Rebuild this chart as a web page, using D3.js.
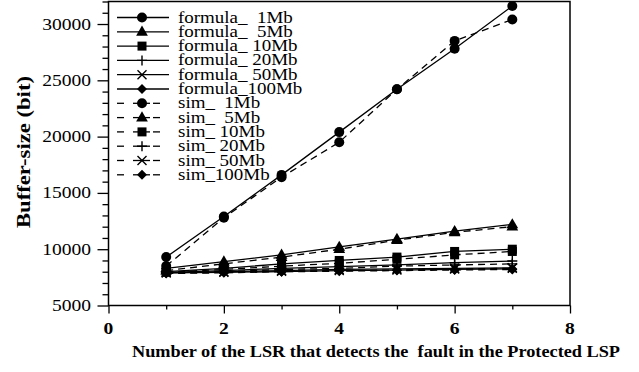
<!DOCTYPE html>
<html><head><meta charset="utf-8">
<script src="https://cdn.jsdelivr.net/npm/d3@7"></script>
<style>body{margin:0;background:#fff}</style>
</head><body>
<svg id="c" width="639" height="372"></svg>
<script>
const xValues = [1, 2, 3, 4, 5, 6, 7];
const seriesNames = ["formula_  1Mb","formula_  5Mb","formula_ 10Mb","formula_ 20Mb","formula_ 50Mb","formula_100Mb",
                     "sim_  1Mb","sim_  5Mb","sim_ 10Mb","sim_ 20Mb","sim_ 50Mb","sim_100Mb"];
const formula1 = [9300, 12900, 16600, 20400, 24200, 27800, 31600];
const formula5 = [8300, 8900, 9500, 10200, 10900, 11600, 12200];
const formula10 = [8000, 8300, 8700, 9000, 9300, 9800, 10000];
const formula20 = [7950, 8100, 8300, 8450, 8600, 8800, 8950];
const formula50 = [7900, 8000, 8100, 8200, 8250, 8300, 8350];
const formula100 = [7900, 7950, 8000, 8100, 8150, 8200, 8250];
const sim1 = [8500, 12800, 16400, 19500, 24200, 28500, 30400];
const sim5 = [8100, 8700, 9300, 10000, 10800, 11500, 12000];
const sim10 = [7950, 8200, 8500, 8750, 9100, 9500, 9800];
const sim20 = [7900, 8000, 8200, 8300, 8500, 8600, 8700];
const sim50 = [7900, 7950, 8050, 8100, 8150, 8250, 8300];
const sim100 = [7850, 7900, 8000, 8050, 8100, 8150, 8200];
const seriesValues = [formula1, formula5, formula10, formula20, formula50, formula100,
                      sim1, sim5, sim10, sim20, sim50, sim100];
const markerTypes = ["circle","triangle","square","plus","cross","diamond",
                     "circle","triangle","square","plus","cross","diamond"];
const xTicks = [0, 2, 4, 6, 8];
const yTicks = [5000, 10000, 15000, 20000, 25000, 30000];
const xTitle = "Number of the LSR that detects the  fault in the Protected LSP";
const yTitle = "Buffer-size (bit)";

const FONT = "'Liberation Serif', 'Times New Roman', Times, serif";
const svg = d3.select("#c").attr("font-family", FONT);
const L = 108.5, R = 570, T = 1.5, B = 305.5;
const x = d3.scaleLinear().domain([0, 8]).range([L, R]);
const y = d3.scaleLinear().domain([5000, 32000]).range([B, T]);
const SX = 1.15;

svg.append("rect").attr("x", L).attr("y", T).attr("width", R - L).attr("height", B - T)
  .attr("fill", "none").attr("stroke", "#000").attr("stroke-width", 1.5);

const gx = svg.append("g").attr("transform", `translate(0,${B})`);
gx.call(d3.axisBottom(x).tickValues(d3.range(0, 9, 1)).tickSize(8).tickFormat(""))
  .call(g => g.select(".domain").remove());
gx.selectAll(".tick line").attr("stroke-width", 1.3).attr("y2", d => d % 2 === 0 ? 8 : 4);
gx.selectAll(".tick text").remove();
xTicks.forEach(v => {
  svg.append("text").attr("transform", `translate(${x(v)},334) scale(${SX},1)`)
    .attr("text-anchor", "middle").attr("font-family", FONT).attr("font-size", 17).attr("font-weight", "bold").text(v);
});

const gy = svg.append("g").attr("transform", `translate(${L},0)`);
gy.call(d3.axisLeft(y).tickValues(d3.range(5000, 32001, 1000)).tickSize(11).tickFormat(""))
  .call(g => g.select(".domain").remove());
gy.selectAll(".tick line").attr("stroke-width", 1.3).attr("x2", d => d % 5000 === 0 ? -11 : -6);
yTicks.forEach(v => {
  svg.append("text").attr("transform", `translate(91,${y(v) + 5.5}) scale(${SX},1)`)
    .attr("text-anchor", "end").attr("font-family", FONT).attr("font-size", 17).text(v);
});

svg.append("text").attr("x", 376).attr("y", 357).attr("text-anchor", "middle")
  .attr("font-family", FONT).attr("font-size", 17).attr("font-weight", "bold")
  .attr("textLength", 488).attr("lengthAdjust", "spacingAndGlyphs")
  .style("white-space", "pre").text(xTitle);
svg.append("text").attr("transform", "translate(30,152) rotate(-90)").attr("text-anchor", "middle")
  .attr("font-family", FONT).attr("font-size", 18).attr("font-weight", "bold")
  .attr("textLength", 152).attr("lengthAdjust", "spacingAndGlyphs").text(yTitle);

function drawMarker(g, type, cx, cy) {
  if (type === "circle") g.append("circle").attr("cx", cx).attr("cy", cy).attr("r", 5).attr("fill", "#000");
  else if (type === "triangle") g.append("path").attr("d", d3.symbol(d3.symbolTriangle, 60)()).attr("transform", `translate(${cx},${cy + 0.5})`).attr("fill", "#000");
  else if (type === "square") g.append("rect").attr("x", cx - 4.5).attr("y", cy - 4.5).attr("width", 9).attr("height", 9).attr("fill", "#000");
  else if (type === "plus") g.append("path").attr("d", `M${cx-5},${cy}H${cx+5}M${cx},${cy-5}V${cy+5}`).attr("stroke", "#000").attr("stroke-width", 1.4).attr("fill", "none");
  else if (type === "cross") g.append("path").attr("d", `M${cx-4.5},${cy-4.5}L${cx+4.5},${cy+4.5}M${cx-4.5},${cy+4.5}L${cx+4.5},${cy-4.5}`).attr("stroke", "#000").attr("stroke-width", 1.4).attr("fill", "none");
  else if (type === "diamond") g.append("path").attr("d", `M${cx},${cy-5}L${cx+5},${cy}L${cx},${cy+5}L${cx-5},${cy}Z`).attr("fill", "#000");
}

const line = d3.line().x((d, i) => x(xValues[i])).y(d => y(d));
const plot = svg.append("g");
seriesValues.forEach((vals, si) => {
  plot.append("path").attr("d", line(vals)).attr("fill", "none").attr("stroke", "#000")
    .attr("stroke-width", 1.3).attr("stroke-dasharray", si >= 6 ? "7,5" : null);
});
seriesValues.forEach((vals, si) => {
  vals.forEach((v, i) => drawMarker(plot, markerTypes[si], x(xValues[i]), y(v)));
});

const leg = svg.append("g");
seriesNames.forEach((name, si) => {
  const cy = 17.5 + si * 14.3;
  if (si >= 6) {
    [[117,124],[133,150],[153,160]].forEach(s => leg.append("line").attr("x1", s[0]).attr("x2", s[1]).attr("y1", cy).attr("y2", cy).attr("stroke", "#000").attr("stroke-width", 1.3));
  } else {
    leg.append("line").attr("x1", 117).attr("x2", 169).attr("y1", cy).attr("y2", cy).attr("stroke", "#000").attr("stroke-width", 1.3);
  }
  drawMarker(leg, markerTypes[si], 142, cy);
  leg.append("text").attr("transform", `translate(178,${cy + 5}) scale(${SX},1)`)
    .attr("font-family", FONT).attr("font-size", 16.5).style("white-space", "pre").text(name);
});
</script>
</body></html>
